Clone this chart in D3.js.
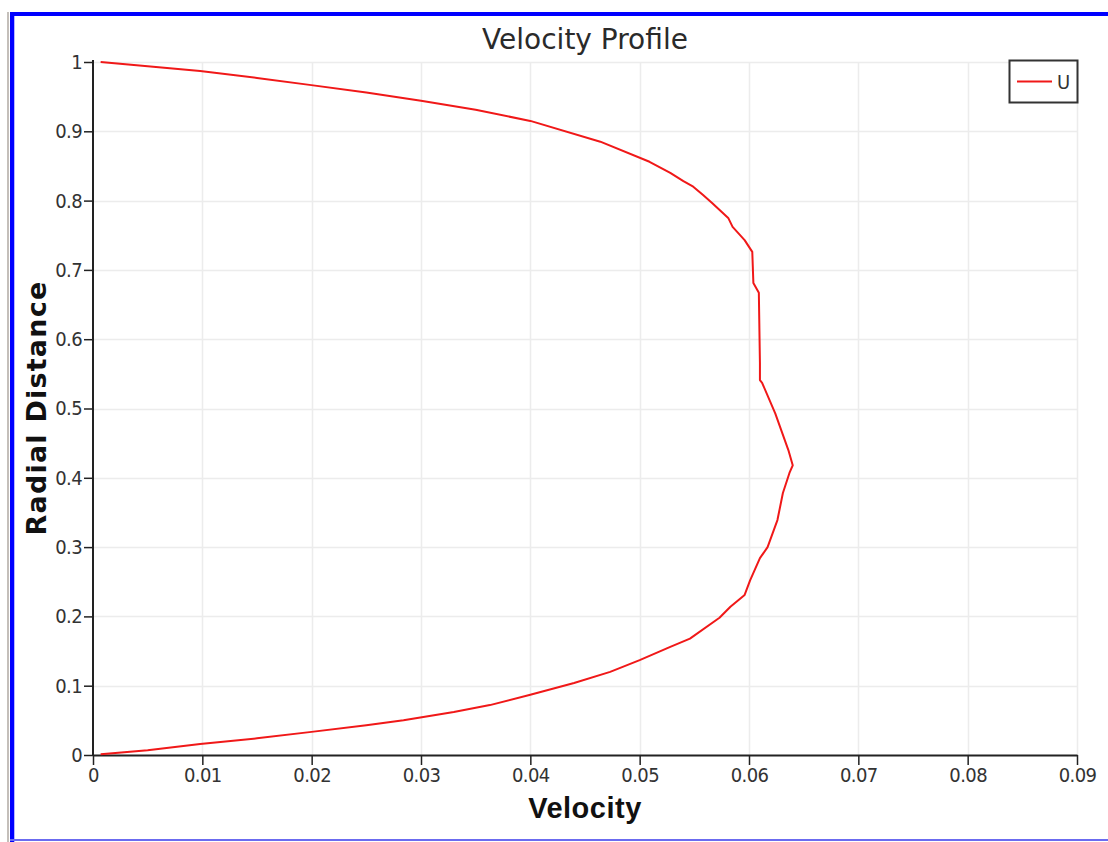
<!DOCTYPE html>
<html>
<head>
<meta charset="utf-8">
<script src="https://cdn.jsdelivr.net/npm/d3@7"></script>
<style>
html,body{margin:0;padding:0;background:#fff;}
svg{display:block;}
</style>
</head>
<body>
<svg id="chart" width="1108" height="842"></svg>
<script>
const velocity = [0.0007,0.005,0.0098,0.015,0.0198,0.025,0.0284,0.033,0.0363,0.040,0.044,0.0473,0.050,0.0528,0.0546,0.0573,0.0583,0.0596,0.0601,0.0610,0.0617,0.0626,0.0631,0.0637,0.0640,0.0636,0.0624,0.0612,0.0610,0.0610,0.0609,0.0604,0.0603,0.0596,0.0585,0.0581,0.0566,0.0558,0.0549,0.0540,0.0528,0.0509,0.0464,0.0400,0.0350,0.0300,0.0250,0.0198,0.0150,0.0098,0.0050,0.0007];
const radial   = [0.001,0.007,0.016,0.024,0.033,0.043,0.050,0.062,0.072,0.087,0.104,0.120,0.137,0.156,0.168,0.198,0.214,0.231,0.252,0.284,0.300,0.339,0.378,0.407,0.418,0.440,0.493,0.537,0.541,0.566,0.667,0.681,0.726,0.743,0.762,0.775,0.797,0.808,0.820,0.828,0.840,0.856,0.885,0.915,0.931,0.944,0.956,0.967,0.977,0.987,0.994,1.000];
const xTicks = [0,0.01,0.02,0.03,0.04,0.05,0.06,0.07,0.08,0.09];
const xTickLabels = ["0","0.01","0.02","0.03","0.04","0.05","0.06","0.07","0.08","0.09"];
const yTicks = [0,0.1,0.2,0.3,0.4,0.5,0.6,0.7,0.8,0.9,1];
const yTickLabels = ["0","0.1","0.2","0.3","0.4","0.5","0.6","0.7","0.8","0.9","1"];
const seriesName = "U";
const titleText = "Velocity Profile";
const xTitle = "Velocity";
const yTitle = "Radial Distance";

(function(){
const svg = d3.select("#chart");
const W = 1108, H = 842;

// frame
svg.append("rect").attr("x",0).attr("y",0).attr("width",W).attr("height",H).attr("fill","#fff");
svg.append("rect").attr("x",7).attr("y",12).attr("width",2).attr("height",H-12).attr("fill","#c4bfba");
svg.append("rect").attr("x",10).attr("y",12).attr("width",4).attr("height",H-12).attr("fill","#0000ff");
svg.append("rect").attr("x",14).attr("y",16).attr("width",1).attr("height",H-16).attr("fill","#b8b8ff");
svg.append("rect").attr("x",10).attr("y",12).attr("width",W-10).attr("height",4).attr("fill","#0000ff");
svg.append("rect").attr("x",10).attr("y",839).attr("width",W-10).attr("height",2).attr("fill","#6b6bf0");

const pL = 93, pR = 1077, pT = 62, pB = 755;
const x = d3.scaleLinear().domain([0,0.09]).range([pL,pR]);
const y = d3.scaleLinear().domain([0,1]).range([pB,pT]);

// grid
const grid = svg.append("g");
grid.selectAll("line.vx").data(xTicks.slice(1)).enter().append("line")
  .attr("x1",d=>Math.round(x(d))+0.5).attr("x2",d=>Math.round(x(d))+0.5)
  .attr("y1",pT).attr("y2",pB).attr("stroke","#ececec").attr("stroke-width",1.5);
grid.selectAll("line.hy").data(yTicks.slice(1)).enter().append("line")
  .attr("y1",d=>Math.round(y(d))+0.5).attr("y2",d=>Math.round(y(d))+0.5)
  .attr("x1",pL).attr("x2",pR).attr("stroke","#ececec").attr("stroke-width",1.5);

// axes
const tickFont = "'DejaVu Sans Condensed','DejaVu Sans',sans-serif";
const xAxis = d3.axisBottom(x).tickValues(xTicks).tickFormat((d,i)=>xTickLabels[i]).tickSize(10).tickSizeOuter(0).tickPadding(3);
const gx = svg.append("g").attr("transform",`translate(0,${pB})`).call(xAxis);
gx.select(".domain").attr("stroke","#222").attr("stroke-width",2);
gx.selectAll(".tick line").attr("stroke","#222").attr("stroke-width",1.5);
gx.selectAll(".tick text").attr("font-family",tickFont).attr("font-size",20)
  .attr("letter-spacing","-0.6px").attr("fill","#333");

const yAxis = d3.axisLeft(y).tickValues(yTicks).tickFormat((d,i)=>yTickLabels[i]).tickSize(9).tickSizeOuter(0).tickPadding(2);
const gy = svg.append("g").attr("transform",`translate(${pL},0)`).call(yAxis);
gy.select(".domain").attr("stroke","#222").attr("stroke-width",2).attr("d",`M0,${pT-2}V${pB}`);
gy.selectAll(".tick line").attr("stroke","#222").attr("stroke-width",1.5);
gy.selectAll(".tick text").attr("font-family",tickFont).attr("font-size",20)
  .attr("letter-spacing","-0.6px").attr("fill","#333");

// curve
const pts = velocity.map((v,i)=>[v,radial[i]]);
const line = d3.line().x(d=>x(d[0])).y(d=>y(d[1]));
svg.append("path").datum(pts).attr("d",line).attr("fill","none")
  .attr("stroke","#f01818").attr("stroke-width",2).attr("stroke-linejoin","round");

// titles
svg.append("text").attr("x",585).attr("y",49).attr("text-anchor","middle")
  .attr("font-family","'DejaVu Sans',sans-serif").attr("font-weight",400)
  .attr("font-size",28).attr("fill","#2a2a2a").text(titleText);
svg.append("text").attr("x",585).attr("y",818).attr("text-anchor","middle")
  .attr("font-family","'Liberation Sans',Arial,sans-serif").attr("font-weight","bold")
  .attr("font-size",29).attr("letter-spacing","0.5px").attr("fill","#111").text(xTitle);
svg.append("text").attr("transform","translate(46,408) rotate(-90)").attr("text-anchor","middle")
  .attr("font-family","'DejaVu Sans',sans-serif").attr("font-weight","bold")
  .attr("font-size",27).attr("letter-spacing","1.2px").attr("fill","#111").text(yTitle);

// legend
const lg = svg.append("g");
lg.append("rect").attr("x",1009.5).attr("y",60.5).attr("width",68).attr("height",42)
  .attr("fill","#fff").attr("stroke","#333").attr("stroke-width",2);
lg.append("line").attr("x1",1017).attr("x2",1052).attr("y1",81.5).attr("y2",81.5)
  .attr("stroke","#f01818").attr("stroke-width",2);
lg.append("text").attr("x",1057).attr("y",89).attr("font-family",tickFont)
  .attr("font-size",20).attr("fill","#333").text(seriesName);
})();
</script>
</body>
</html>
